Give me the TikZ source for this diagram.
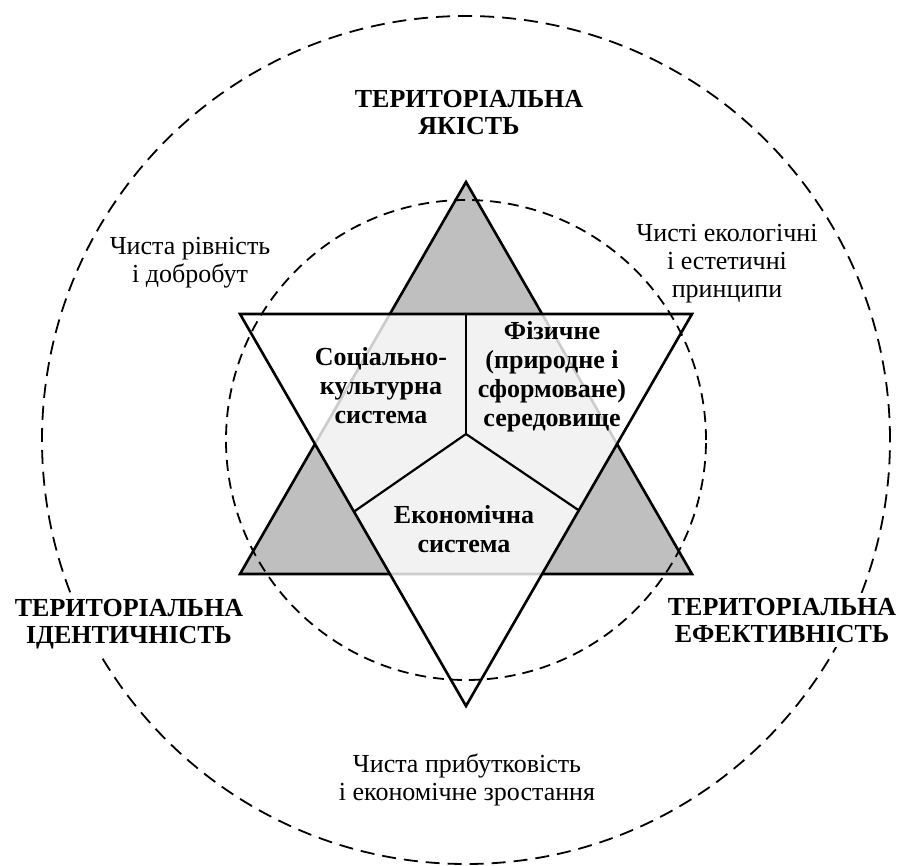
\documentclass[tikz,border=0pt]{standalone}
\usepackage{fontspec}
\setmainfont{Liberation Serif}
\usetikzlibrary{calc}
\begin{document}
\begin{tikzpicture}[x=1pt, y=-1pt,
    tri/.style={line width=2.6pt, line join=miter},
    spoke/.style={line width=2.2pt},
    ring/.style={dashed, line width=1.8pt},
    aspect/.style={font=\bfseries\fontsize{26}{27}\selectfont, align=center, anchor=base, fill=white, inner sep=5pt},
    goal/.style={font=\fontsize{26}{28}\selectfont, align=center, anchor=base, inner sep=0pt},
    sys/.style={font=\bfseries\fontsize{26}{29}\selectfont, align=center, anchor=base, inner sep=0pt}
  ]
  \useasboundingbox (0,0) rectangle (902,866);

  % star corners
  \coordinate (top) at (466,182);
  \coordinate (bl) at (240,574);
  \coordinate (br) at (692,574);
  \coordinate (tl) at (240,314);
  \coordinate (tr) at (692,314);
  \coordinate (bot) at (466,706);
  \coordinate (mid) at (466,434);

  % hexagon corners
  \coordinate (hexT) at (466,314);
  \coordinate (hexL) at (315,444);
  \coordinate (hexBL) at (390,574);
  \coordinate (hexR) at (617,444);
  \coordinate (hexBR) at (542,574);

  \filldraw[tri, fill=black!25] (top) -- (bl) -- (br) -- cycle;
  \filldraw[tri, fill=white, fill opacity=0.8] (tl) -- (tr) -- (bot) -- cycle;

  \draw[spoke] (hexT) -- (mid);
  \draw[spoke] (mid) -- ($(hexL)!0.52!(hexBL)$);
  \draw[spoke] (mid) -- ($(hexR)!0.51!(hexBR)$);

  \draw[ring, dash pattern=on 11pt off 7pt] (466,440) circle[radius=240pt];
  \draw[ring, dash pattern=on 14pt off 8pt] (466,440) circle[radius=424pt];

  % anchor=base sits on the last line
  \node[aspect] (quality) at (469,135) {ТЕРИТОРІАЛЬНА\\ЯКІСТЬ};
  \node[aspect] (identity) at (129,643) {ТЕРИТОРІАЛЬНА\\ІДЕНТИЧНІСТЬ};
  \node[aspect] (efficiency) at (782,642) {ТЕРИТОРІАЛЬНА\\ЕФЕКТИВНІСТЬ};

  \node[goal] (equity) at (190,283) {Чиста рівність\\і добробут};
  \node[goal] (ecology) at (727,298) {Чисті екологічні\\і естетичні\\принципи};
  \node[goal] (profit) at (467,800) {Чиста прибутковість\\і економічне зростання};

  \node[sys] (social) at (381,423) {Соціально-\\культурна\\система};
  \node[sys] (physical) at (552,426) {Фізичне\\(природне і\\сформоване)\\середовище};
  \node[sys] (economic) at (464,552) {Економічна\\система};
\end{tikzpicture}
\end{document}
